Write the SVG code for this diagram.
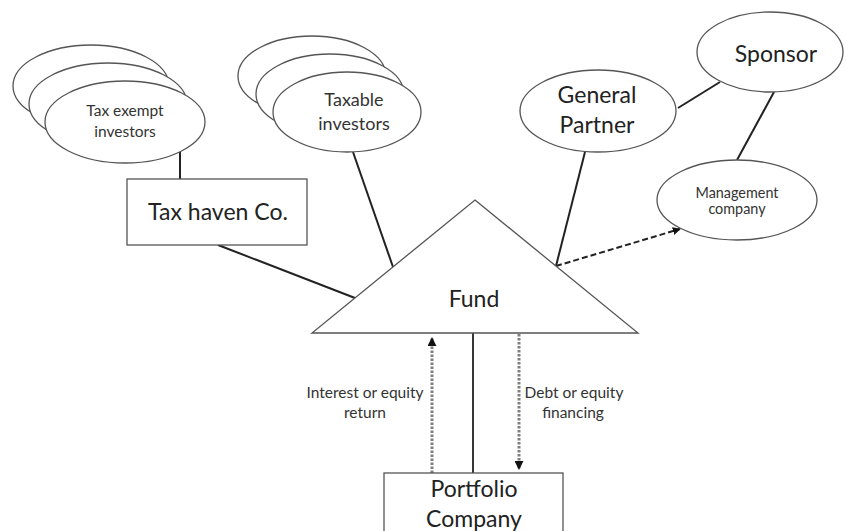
<svg xmlns="http://www.w3.org/2000/svg" width="846" height="531" viewBox="0 0 846 531">
<style>
  .shape { fill: #fff; stroke: #555; stroke-width: 1.3; }
  .conn { stroke: #222; stroke-width: 2; fill: none; }
  .dash { stroke: #222; stroke-width: 2; stroke-dasharray: 6 3; fill: none; }
  .dot { stroke: #808080; stroke-width: 3; stroke-dasharray: 2.5 1.5; fill: none; }
  text { font-family: Lato, "Liberation Sans", sans-serif; fill: #222; text-anchor: middle; }
  .lg { font-size: 23px; }
  .md { font-size: 18px; fill: #333; }
  .sm { font-size: 15.5px; fill: #333; }
  .xs { font-size: 14.4px; fill: #333; }
</style>
<defs>
  <marker id="ah" viewBox="0 0 10 10" refX="9" refY="5" markerWidth="4" markerHeight="4" orient="auto" markerUnits="strokeWidth">
    <path d="M0,0 L10,5 L0,10 z" fill="#111"/>
  </marker>
  <marker id="ahd" viewBox="0 0 10 10" refX="9" refY="5" markerWidth="3" markerHeight="3" orient="auto" markerUnits="strokeWidth">
    <path d="M0,0 L10,5 L0,10 z" fill="#111"/>
  </marker>
</defs>
<rect width="846" height="531" fill="#fff"/>

<g id="connectors">
  <line class="conn" x1="180" y1="152" x2="180" y2="179"/>
  <line class="conn" x1="218" y1="245" x2="355" y2="298"/>
  <line class="conn" x1="353" y1="152" x2="393" y2="267"/>
  <line class="conn" x1="585" y1="152" x2="556" y2="266"/>
  <line class="conn" x1="678" y1="108" x2="720" y2="82"/>
  <line class="conn" x1="774" y1="92" x2="737" y2="160"/>
  <line class="dash" x1="556" y1="266" x2="680" y2="229" marker-end="url(#ah)"/>
  <line class="conn" x1="473" y1="333" x2="473" y2="473" style="stroke-width:1.8"/>
  <line class="dot" x1="432" y1="473" x2="432" y2="338" marker-end="url(#ahd)"/>
  <line class="dot" x1="519" y1="334" x2="519" y2="469" marker-end="url(#ahd)"/>
</g>

<g id="tax-exempt-investors">
  <ellipse class="shape" cx="91" cy="86" rx="78" ry="41"/>
  <ellipse class="shape" cx="108" cy="104" rx="79" ry="41"/>
  <ellipse class="shape" cx="125" cy="122" rx="80" ry="41"/>
  <text class="sm" x="125" y="116">Tax exempt</text>
  <text class="sm" x="125" y="137">investors</text>
</g>

<g id="tax-haven-co">
  <rect class="shape" x="127" y="179" width="180" height="66"/>
  <text class="lg" x="218" y="220">Tax haven Co.</text>
</g>

<g id="taxable-investors">
  <ellipse class="shape" cx="312" cy="76" rx="74" ry="40"/>
  <ellipse class="shape" cx="330" cy="94" rx="74" ry="40"/>
  <ellipse class="shape" cx="347" cy="112" rx="74" ry="40"/>
  <text class="md" x="354" y="106">Taxable</text>
  <text class="md" x="354" y="130">investors</text>
</g>

<g id="general-partner">
  <ellipse class="shape" cx="598" cy="111" rx="78" ry="41"/>
  <text class="lg" x="597" y="103">General</text>
  <text class="lg" x="597" y="133">Partner</text>
</g>

<g id="sponsor">
  <ellipse class="shape" cx="770" cy="52" rx="73" ry="40"/>
  <text class="lg" x="776" y="62">Sponsor</text>
</g>

<g id="management-company">
  <ellipse class="shape" cx="737" cy="200" rx="80" ry="40"/>
  <text class="xs" x="737" y="198">Management</text>
  <text class="xs" x="737" y="214">company</text>
</g>

<g id="fund">
  <polygon class="shape" points="475,200 638,333 312,333"/>
  <text class="lg" x="474" y="307">Fund</text>
</g>

<g id="portfolio-company">
  <rect class="shape" x="384" y="473" width="179" height="80"/>
  <text class="lg" x="474" y="497">Portfolio</text>
  <text class="lg" x="474" y="527">Company</text>
</g>

<g id="flow-labels">
  <text class="sm" x="365" y="398">Interest or equity</text>
  <text class="sm" x="365" y="418">return</text>
  <text class="sm" x="574" y="398">Debt or equity</text>
  <text class="sm" x="573" y="418">financing</text>
</g>
</svg>
